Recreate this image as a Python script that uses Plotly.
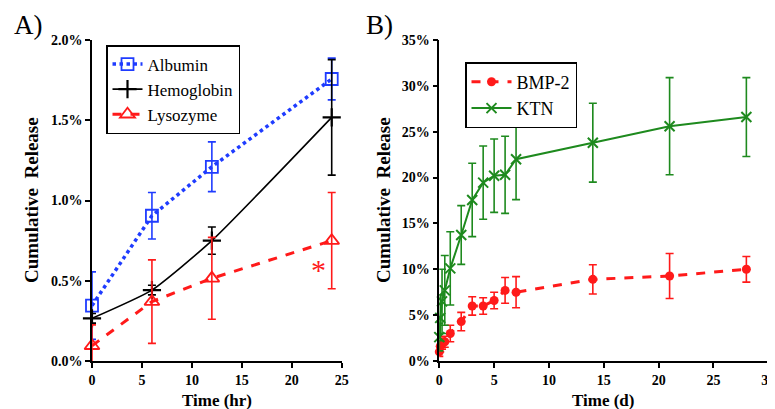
import plotly.graph_objects as go

# ---- Panel A data (time in hr, cumulative release %) ----
time_a = [0, 6, 12, 24]
albumin = [0.345, 0.905, 1.21, 1.757]
albumin_err = [0.21, 0.145, 0.155, 0.13]
hemoglobin = [0.266, 0.442, 0.75, 1.518]
hemoglobin_err = [0.03, 0.03, 0.085, 0.36]
lysozyme = [0.095, 0.37, 0.515, 0.75]
lysozyme_err = [0.13, 0.26, 0.255, 0.30]

# ---- Panel B data (time in d, cumulative release %) ----
time_b = [0, 0.083, 0.25, 0.5, 1, 2, 3, 4, 5, 6, 7, 14, 21, 28]
bmp2 = [1.0, 1.6, 1.9, 2.1, 3.0, 4.3, 6.0, 6.0, 6.6, 7.7, 7.5, 8.9, 9.27, 10.0]
bmp2_err = [0.5, 0.6, 0.6, 0.6, 0.9, 1.0, 1.0, 0.9, 0.9, 1.4, 1.7, 1.6, 2.45, 1.4]
ktn = [2.6, 4.7, 6.5, 7.7, 10.1, 13.74, 17.56, 19.45, 20.2, 20.3, 22.0, 23.8, 25.6, 26.6]
ktn_err = [1.5, 2.5, 3.5, 3.8, 4.0, 3.2, 4.0, 4.0, 4.0, 4.2, 4.4, 4.3, 5.3, 4.3]

FONT = "'Times New Roman', 'Liberation Serif', 'DejaVu Serif', serif"
BLUE = "#1f3cff"
RED = "#ff1a1a"
GREEN = "#1e8a1e"

W, H = 775, 409
OFF = 8  # page body margin shifts the figure by this many pixels


def px(x):
    return (x - OFF) / W


def py(y):
    return 1 - (y - OFF) / H


fig = go.Figure()


def eb(vals, color):
    return dict(type="data", array=vals, visible=True, color=color, thickness=1.6, width=4)


fig.add_trace(go.Scatter(x=time_a, y=albumin, name="Albumin", mode="lines+markers",
    line=dict(color=BLUE, width=3.5, dash="dot"),
    marker=dict(symbol="square-open", size=12, color=BLUE, line=dict(width=1.8)),
    error_y=eb(albumin_err, BLUE), xaxis="x", yaxis="y", legend="legend", cliponaxis=False))
fig.add_trace(go.Scatter(x=time_a, y=hemoglobin, name="Hemoglobin", mode="lines+markers",
    line=dict(color="black", width=1.6, shape="spline", smoothing=0.5),
    marker=dict(symbol="cross-thin", size=13, color="black", line=dict(width=2.2, color="black")),
    error_y=eb(hemoglobin_err, "black"), xaxis="x", yaxis="y", legend="legend", cliponaxis=False))
fig.add_trace(go.Scatter(x=time_a, y=lysozyme, name="Lysozyme", mode="lines+markers",
    line=dict(color=RED, width=3, dash="dash"),
    marker=dict(symbol="triangle-up-open", size=13, color=RED, line=dict(width=1.8)),
    error_y=eb(lysozyme_err, RED), xaxis="x", yaxis="y", legend="legend", cliponaxis=False))

fig.add_trace(go.Scatter(x=time_b, y=bmp2, name="BMP-2", mode="lines+markers",
    line=dict(color=RED, width=3, dash="dash"),
    marker=dict(symbol="circle", size=9, color=RED),
    error_y=eb(bmp2_err, RED), xaxis="x2", yaxis="y2", legend="legend2", cliponaxis=False))
fig.add_trace(go.Scatter(x=time_b, y=ktn, name="KTN", mode="lines+markers",
    line=dict(color=GREEN, width=2),
    marker=dict(symbol="x-thin", size=10, color=GREEN, line=dict(width=2, color=GREEN)),
    error_y=eb(ktn_err, GREEN), xaxis="x2", yaxis="y2", legend="legend2", cliponaxis=False))

axis_common = dict(showline=True, linecolor="black", linewidth=1.5, ticks="outside",
                   ticklen=5, tickwidth=1.5, tickcolor="black", showgrid=False, zeroline=False,
                   automargin=False,
                   tickfont=dict(family=FONT, size=14, color="black", weight="bold"))

ydom = [py(361), py(40)]
fig.update_layout(
    width=W, height=H,
    margin=dict(l=0, r=0, t=0, b=0, autoexpand=False),
    paper_bgcolor="white", plot_bgcolor="white",
    font=dict(family=FONT, color="black"),
    xaxis=dict(domain=[px(92), px(341.7)], range=[0, 25], dtick=5, anchor="y", **axis_common),
    yaxis=dict(domain=ydom, range=[0, 2.0], dtick=0.5, tickformat=".1f", ticksuffix="%", anchor="x", **axis_common),
    xaxis2=dict(domain=[px(439.3), px(768.3)], range=[0, 30], dtick=5, anchor="y2", **axis_common),
    yaxis2=dict(domain=ydom, range=[0, 35], dtick=5, ticksuffix="%", anchor="x2", **axis_common),
    legend=dict(x=px(106), y=py(45), xanchor="left", yanchor="top",
                bgcolor="white", bordercolor="black", borderwidth=1.5,
                font=dict(family=FONT, size=17, color="black"), itemwidth=30, tracegroupgap=0),
    legend2=dict(x=px(465), y=py(62), xanchor="left", yanchor="top",
                 bgcolor="white", bordercolor="black", borderwidth=1.5,
                 font=dict(family=FONT, size=18, color="black"), itemwidth=40, tracegroupgap=0),
    showlegend=True,
)

annos = [
    dict(text="A)", x=28, y=25, size=27, angle=0),
    dict(text="B)", x=379, y=25, size=27, angle=0),
    dict(text="<b>Time (hr)</b>", x=217, y=400, size=17, angle=0),
    dict(text="<b>Time (d)</b>", x=603, y=400, size=17, angle=0),
    dict(text="<b>Cumulative  Release</b>", x=32, y=200, size=19, angle=-90),
    dict(text="<b>Cumulative  Release</b>", x=384, y=200, size=19, angle=-90),
]
for a in annos:
    fig.add_annotation(xref="paper", yref="paper", showarrow=False, xanchor="center", yanchor="middle",
                       text=a["text"], x=px(a["x"]), y=py(a["y"]), textangle=a["angle"],
                       font=dict(family=FONT, color="black", size=a["size"]))

fig.add_annotation(xref="x", yref="y", x=22.7, y=0.57, text="*", showarrow=False,
                   font=dict(family=FONT, size=30, color=RED))

fig.write_html("out.html")
